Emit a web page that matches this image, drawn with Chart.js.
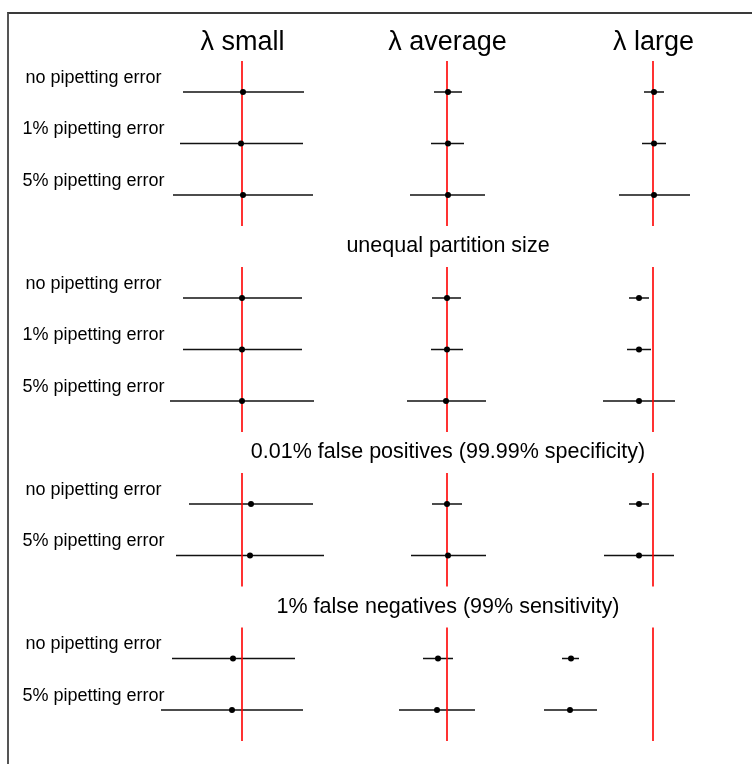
<!DOCTYPE html>
<html><head><meta charset="utf-8">
<script src="https://cdn.jsdelivr.net/npm/chart.js@4/dist/chart.umd.min.js"></script>
<style>
html,body{margin:0;padding:0;width:752px;height:764px;overflow:hidden;background:#fff;font-family:"Liberation Sans",Arial,sans-serif;color:#000;}
#frame{position:absolute;left:7px;top:12px;width:800px;height:800px;border-top:2px solid #3a3a3a;border-left:2px solid #555;box-sizing:border-box;}
canvas{position:absolute;top:0;}
.t{position:absolute;white-space:nowrap;line-height:1;transform:translateX(-50%);}
</style></head><body>
<div id="frame"></div>
<div id="wrap"></div>
<script>
// ---------- data ----------
const columnTitles = ["λ small", "λ average", "λ large"];
const panelTitles = ["", "unequal partition size", "0.01% false positives (99.99% specificity)", "1% false negatives (99% sensitivity)"];
const rowLabels = [
  ["no pipetting error", "1% pipetting error", "5% pipetting error"],
  ["no pipetting error", "1% pipetting error", "5% pipetting error"],
  ["no pipetting error", "5% pipetting error"],
  ["no pipetting error", "5% pipetting error"]
];
// estimates as deviation from the true λ (%), rows listed panel by panel
const estSmall = [0.5, -0.5, 0.5,   0, 0, 0,   4.5, 4,   -4.5, -5];
const loSmall  = [-29.5, -31, -34.5,   -29.5, -29.5, -36,   -26.5, -33,   -35, -40.5];
const hiSmall  = [31, 30.5, 35.5,   30, 30, 36,   35.5, 41,   26.5, 30.5];

const estAverage = [0.5, 0.5, 0.5,   0, 0, -0.5,   0, 0.5,   -4.5, -5];
const loAverage  = [-6.5, -8, -18.5,   -7.5, -8, -20,   -7.5, -18,   -12, -24];
const hiAverage  = [7.5, 8.5, 19,   7, 8, 19.5,   7.5, 19.5,   3, 14];

const estLarge = [0.5, 0.5, 0.5,   -7, -7, -7,   -7, -7,   -41, -41.5];
const loLarge  = [-4.5, -5.5, -17,   -12, -13, -25,   -12, -24.5,   -45.5, -54.5];
const hiLarge  = [5.5, 6.5, 18.5,   -2, -1, 11,   -2, 10.5,   -37, -28];

const trueValue = 0;

// ---------- layout ----------
const W = 752, H = 764;
const SLOT_PX = 51.5, FIRST_ROW_PX = 92;
const colCenters = [242, 447, 653];
const CW = 300;            // canvas width per column
const X_RANGE = 75;        // +-75 % across the canvas width
const yMin = -FIRST_ROW_PX / SLOT_PX;
const yMax = yMin + H / SLOT_PX;
const slotY = s => FIRST_ROW_PX + s * SLOT_PX;

// slots: rows of each panel, a title slot between panels
const rowSlots = [], panelRows = [], panelTitleSlots = [];
let s = 0;
rowLabels.forEach((rows, p) => {
  if (p > 0) { panelTitleSlots.push(s); s += 1; } else { panelTitleSlots.push(-1); }
  const list = [];
  rows.forEach(() => { list.push(s); rowSlots.push(s); s += 1; });
  panelRows.push(list);
});

const cols = [
  {est: estSmall, lo: loSmall, hi: hiSmall},
  {est: estAverage, lo: loAverage, hi: hiAverage},
  {est: estLarge, lo: loLarge, hi: hiLarge}
];

const wrap = document.getElementById('wrap');
function addText(txt, cx, baseline, fs) {
  const d = document.createElement('div');
  d.className = 't';
  d.textContent = txt;
  d.style.fontSize = fs + 'px';
  d.style.left = cx + 'px';
  d.style.top = (baseline - 0.8465 * fs) + 'px';
  wrap.appendChild(d);
}

cols.forEach((c, ci) => {
  const canvas = document.createElement('canvas');
  canvas.width = CW; canvas.height = H;
  canvas.style.width = CW + 'px'; canvas.style.height = H + 'px';
  canvas.style.left = (colCenters[ci] - CW / 2) + 'px';
  wrap.appendChild(canvas);

  const datasets = [];
  panelRows.forEach(rows => {
    datasets.push({
      data: [{x: trueValue, y: rows[0] - 0.6}, {x: trueValue, y: rows[rows.length - 1] + 0.6}],
      showLine: true, borderColor: '#ff0000', borderWidth: 1.6, pointRadius: 0, order: 1
    });
  });
  rowSlots.forEach((sl, i) => {
    datasets.push({
      data: [{x: c.lo[i], y: sl}, {x: c.hi[i], y: sl}],
      showLine: true, borderColor: '#111111', borderWidth: 1.5, pointRadius: 0, order: 2
    });
  });
  datasets.push({
    data: c.est.map((e, i) => ({x: e, y: rowSlots[i]})),
    backgroundColor: '#000000', borderColor: '#000000', borderWidth: 0, pointRadius: 3, order: 0
  });

  new Chart(canvas, {
    type: 'scatter',
    data: {datasets},
    options: {
      responsive: false, animation: false, events: [],
      layout: {padding: 0, autoPadding: false},
      plugins: {legend: {display: false}, tooltip: {enabled: false}},
      scales: {
        x: {type: 'linear', min: -X_RANGE, max: X_RANGE, display: false},
        y: {type: 'linear', min: yMin, max: yMax, reverse: true, display: false}
      }
    }
  });

  addText(columnTitles[ci], colCenters[ci] + 0.5, 51, 27);
});

panelRows.forEach((rows, p) => {
  if (panelTitles[p]) addText(panelTitles[p], 448, slotY(panelTitleSlots[p]) + 7, 21.5);
  rows.forEach((sl, k) => addText(rowLabels[p][k], 93.5, slotY(sl) - 9, 18));
});
</script>
</body></html>
